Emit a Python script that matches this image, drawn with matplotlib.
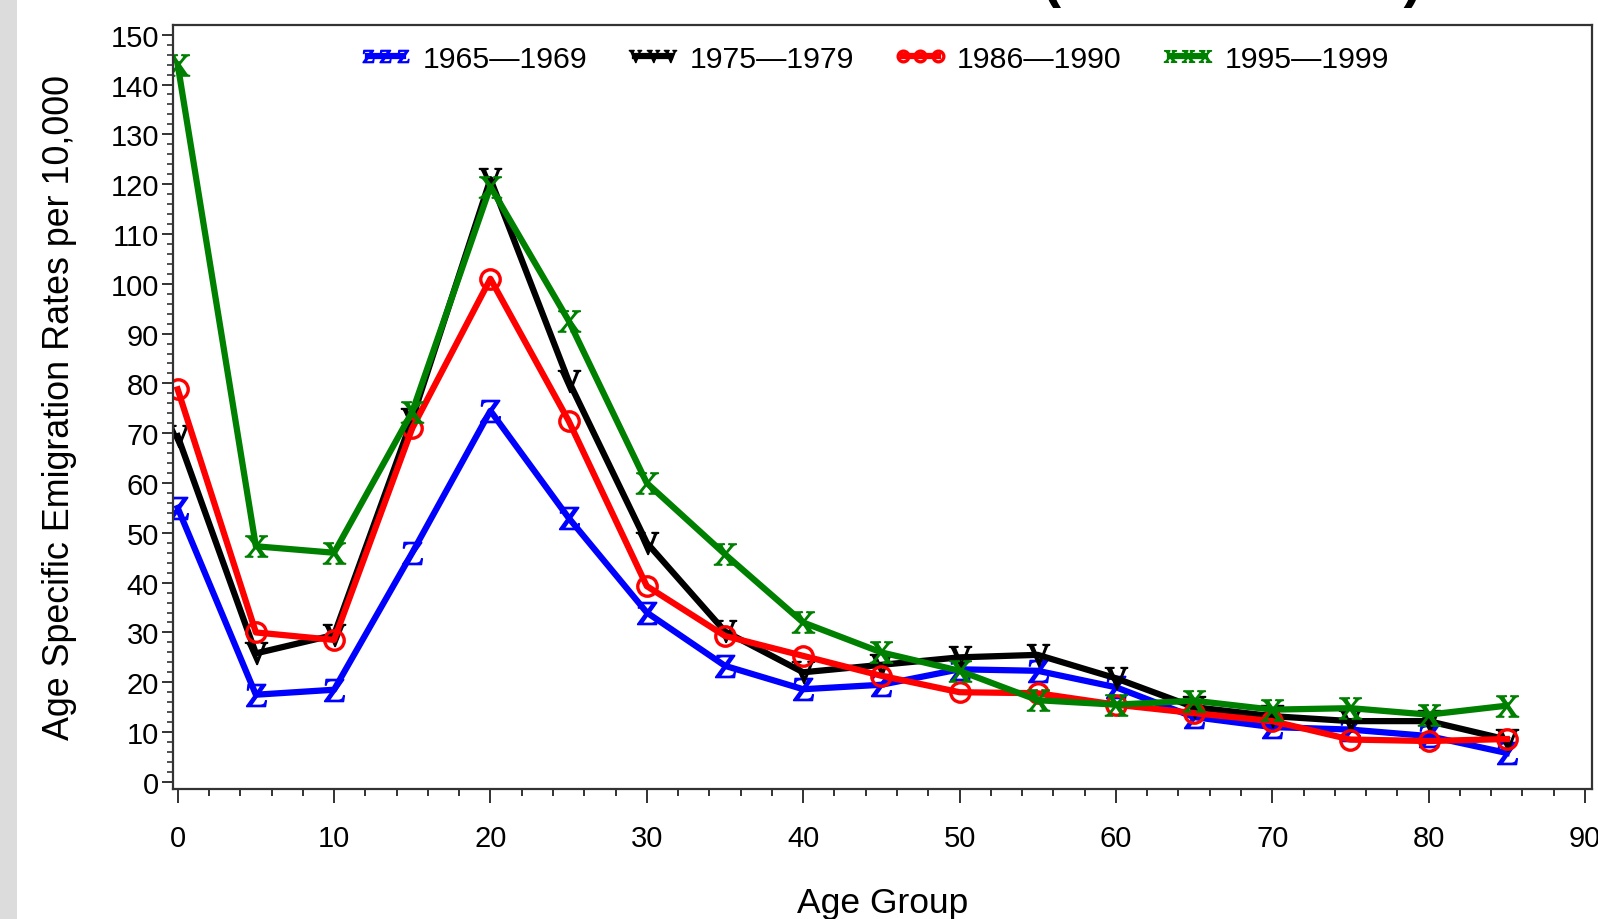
import matplotlib
matplotlib.use("Agg")
import matplotlib.pyplot as plt
from matplotlib.patches import Rectangle

plt.rcParams['font.family'] = ['Liberation Sans', 'DejaVu Sans']
plt.rcParams['mathtext.fontset'] = 'stix'

ages = [0, 5, 10, 15, 20, 25, 30, 35, 40, 45, 50, 55, 60, 65, 70, 75, 80, 85]
rates_1965_1969 = [55, 17.5, 18.5, 46, 74.5, 53, 34, 23.3, 18.6, 19.5, 22.6, 22.3, 19, 13, 11, 10.5, 9.2, 5.8]
rates_1975_1979 = [69.4, 25.8, 29.5, 72.9, 121, 80.5, 48, 30.2, 22, 23.5, 25, 25.5, 20.8, 15, 13.2, 12.2, 12.2, 8.5]
rates_1986_1990 = [78.8, 30, 28.5, 71, 101, 72.5, 39.3, 29.3, 25.3, 21.3, 18, 17.8, 15.5, 13.8, 12.2, 8.5, 8.2, 8.6]
rates_1995_1999 = [144, 47.3, 46, 74.3, 119.5, 92.6, 60, 45.7, 32, 26, 22.3, 16.4, 15.5, 16.3, 14.5, 14.8, 13.5, 15.3]
series_labels = ['1965\u20141969', '1975\u20141979', '1986\u20141990', '1995\u20141999']
x_ticks = list(range(0, 91, 10))
y_ticks = list(range(0, 151, 10))

W, H = 1598, 920
fig = plt.figure(figsize=(W / 100, H / 100), dpi=100)
fig.patch.set_facecolor('white')
fig.add_artist(Rectangle((0, 0), 17 / W, 1, transform=fig.transFigure,
                         facecolor='#dcdcdc', edgecolor='none'))

left, right, top, bottom = 173, 1592, 25.5, 790
ax = fig.add_axes([left / W, 1 - bottom / H, (right - left) / W, (bottom - top) / H])

styles = [
    dict(color='#0000ff', marker=r'$\mathrm{Z}$', ms=16),
    dict(color='#000000', marker=r'$\mathrm{V}$', ms=16),
    dict(color='#ff0000', marker='o', ms=14, mfc='none', mew=2.4),
    dict(color='#008000', marker=r'$\mathrm{X}$', ms=16),
]
all_series = [rates_1965_1969, rates_1975_1979, rates_1986_1990, rates_1995_1999]
for vals, lab, st in zip(all_series, series_labels, styles):
    ax.plot(ages, vals, label=lab, lw=4.5, **st)

ax.set_xlim(-0.3, 90.45)
ax.set_ylim(-1.43, 152.05)
ax.set_xticks(x_ticks)
ax.set_yticks(y_ticks)
ax.set_xticks(range(0, 91, 2), minor=True)
ax.set_yticks(range(0, 151, 2), minor=True)
ax.tick_params(axis='both', which='major', labelsize=21, width=1.3, color='#222222')
ax.tick_params(axis='x', which='major', length=10, pad=15)
ax.tick_params(axis='x', which='minor', length=5, width=1.3, color='#222222')
ax.tick_params(axis='y', which='major', length=8, pad=2)
ax.tick_params(axis='y', which='minor', length=4, width=1.1, color='#222222')
for sp in ax.spines.values():
    sp.set_linewidth(1.6)
    sp.set_color('#333333')

ax.set_xlabel('Age Group', fontsize=25.5, labelpad=25)
ax.set_ylabel('Age Specific Emigration Rates per 10,000', fontsize=25.8, labelpad=24)

leg = ax.legend(loc='upper center', bbox_to_anchor=(0.494, 0.997), ncol=4, frameon=False,
                fontsize=21.8, numpoints=3, markerscale=0.55, handlelength=1.75,
                handletextpad=0.35, columnspacing=1.3, borderaxespad=0.2)

fig.text(1232 / W, 1 + 4 / H, '(1965 \u2014 1999)', ha='center', va='baseline',
         fontsize=41, fontweight='bold')

fig.savefig('out.png', dpi=100)
